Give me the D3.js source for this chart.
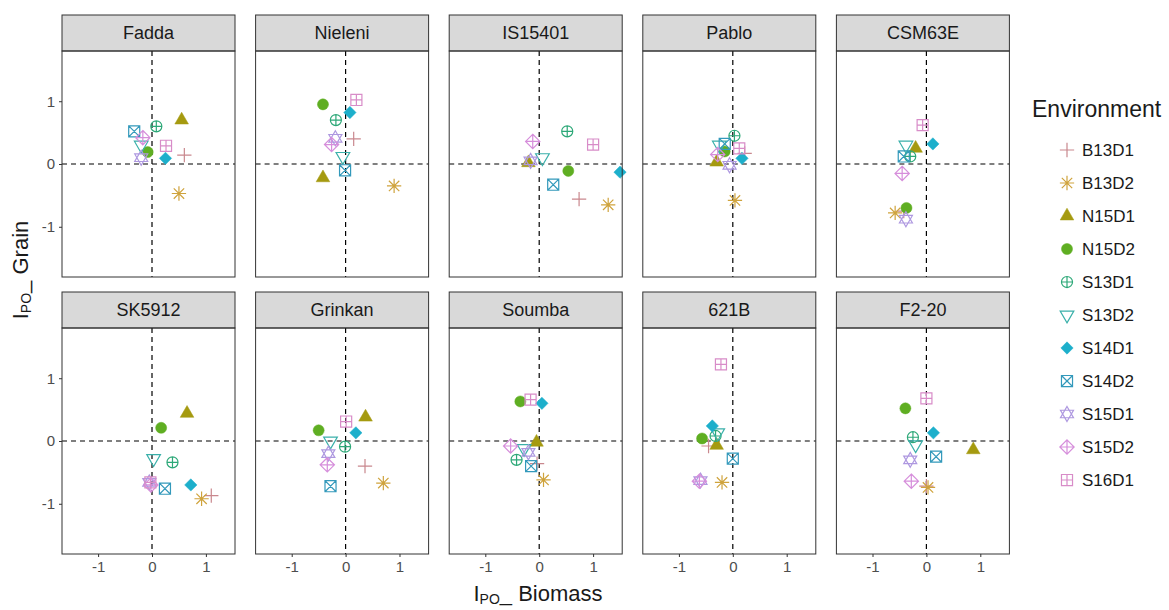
<!DOCTYPE html>
<html>
<head>
<meta charset="utf-8">
<script src="https://cdn.jsdelivr.net/npm/d3@7"></script>
<style>
  body { margin: 0; background: #fff; }
  text { font-family: Arial, "Liberation Sans", sans-serif; }
</style>
</head>
<body>
<div id="chart"></div>
<script>
'use strict';

// genotypes (facets), in panel order
var genotypes = ["Fadda", "Nieleni", "IS15401", "Pablo", "CSM63E",
                 "SK5912", "Grinkan", "Soumba", "621B", "F2-20"];

// environments (legend order)
var environments = ["B13D1", "B13D2", "N15D1", "N15D2", "S13D1", "S13D2",
                    "S14D1", "S14D2", "S15D1", "S15D2", "S16D1"];

var envColors = ["#C9888E", "#CFA33C", "#A59A10", "#5FAE22", "#2DA878", "#3AB0AA",
                 "#1DAFCB", "#3399BB", "#AE98E0", "#D68EDB", "#D88CC8"];

var envShapes = ["plus", "asterisk", "triangle", "circle", "circleplus", "triangledown",
                 "diamond", "squarecross", "star", "diamondplus", "squareplus"];

var xTicks = [-1, 0, 1];
var yTicks = [-1, 0, 1];

// [IPO_Biomass, IPO_Grain] per environment, same order as environments
var fadda   = [[0.60, 0.14], [0.50, -0.47], [0.55, 0.70], [-0.08, 0.19], [0.08, 0.60], [-0.20, 0.30],
               [0.25, 0.09], [-0.33, 0.52], [-0.20, 0.10], [-0.17, 0.42], [0.26, 0.29]];
var nieleni = [[0.15, 0.40], [0.90, -0.35], [-0.42, -0.22], [-0.42, 0.95], [-0.18, 0.70], [-0.05, 0.12],
               [0.08, 0.82], [-0.01, -0.10], [-0.19, 0.41], [-0.26, 0.31], [0.20, 1.02]];
var is15401 = [[0.74, -0.56], [1.28, -0.65], [-0.20, 0.02], [0.54, -0.11], [0.52, 0.52], [0.06, 0.10],
               [1.50, -0.13], [0.26, -0.33], [-0.16, 0.05], [-0.12, 0.36], [1.00, 0.31]];
var pablo   = [[0.22, 0.17], [0.04, -0.58], [-0.30, 0.03], [-0.15, 0.20], [0.03, 0.45], [-0.25, 0.30],
               [0.17, 0.09], [-0.15, 0.32], [-0.06, -0.02], [-0.28, 0.15], [0.12, 0.25]];
var csm63e  = [[-0.42, -0.75], [-0.58, -0.78], [-0.20, 0.25], [-0.37, -0.70], [-0.30, 0.12], [-0.38, 0.30],
               [0.12, 0.32], [-0.42, 0.12], [-0.38, -0.88], [-0.45, -0.15], [-0.07, 0.62]];
var sk5912  = [[1.10, -0.87], [0.92, -0.92], [0.65, 0.44], [0.17, 0.21], [0.38, -0.34], [0.03, -0.28],
               [0.72, -0.70], [0.24, -0.76], [-0.05, -0.66], [-0.02, -0.70], [-0.03, -0.66]];
var grinkan = [[0.36, -0.40], [0.70, -0.67], [0.37, 0.38], [-0.50, 0.17], [-0.01, -0.09], [-0.28, 0.00],
               [0.19, 0.13], [-0.28, -0.72], [-0.32, -0.20], [-0.34, -0.38], [0.01, 0.31]];
var soumba  = [[-0.04, -0.36], [0.08, -0.62], [-0.05, -0.02], [-0.35, 0.63], [-0.42, -0.30], [-0.28, -0.12],
               [0.05, 0.60], [-0.15, -0.40], [-0.20, -0.18], [-0.53, -0.08], [-0.16, 0.66]];
var b621    = [[-0.45, -0.08], [-0.20, -0.66], [-0.30, -0.07], [-0.57, 0.04], [-0.32, 0.08], [-0.28, 0.13],
               [-0.38, 0.24], [0.00, -0.28], [-0.60, -0.63], [-0.62, -0.64], [-0.22, 1.22]];
var f220    = [[0.00, -0.72], [0.03, -0.74], [0.87, -0.14], [-0.39, 0.52], [-0.25, 0.06], [-0.20, -0.06],
               [0.13, 0.13], [0.18, -0.25], [-0.30, -0.30], [-0.28, -0.64], [0.00, 0.68]];

var panelData = [fadda, nieleni, is15401, pablo, csm63e, sk5912, grinkan, soumba, b621, f220];

// layout
var W = 1169, H = 610;
var marginLeft = 62, marginTop = 15, panelW = 173, colStep = 193.6;
var stripH = 36, plotH = 226, rowStep = 277;

var svg = d3.select("#chart").append("svg")
    .attr("width", W)
    .attr("height", H);

var x = d3.scaleLinear().domain([-1.67, 1.54]).range([0, panelW]);
var y = d3.scaleLinear().domain([-1.8, 1.8]).range([plotH, 0]);

// symbol paths, r = half size
function shapePath(type, r) {
    var p = "";
    var cr = r * 0.85;
    function plus(s) { return "M" + (-s) + ",0H" + s + "M0," + (-s) + "V" + s; }
    function cross(s) { return "M" + (-s) + "," + (-s) + "L" + s + "," + s + "M" + (-s) + "," + s + "L" + s + "," + (-s); }
    function square(s) { return "M" + (-s) + "," + (-s) + "H" + s + "V" + s + "H" + (-s) + "Z"; }
    function diamond(s) { return "M0," + (-s) + "L" + s + ",0L0," + s + "L" + (-s) + ",0Z"; }
    function circ(s) { return "M" + (-s) + ",0A" + s + "," + s + " 0 1,0 " + s + ",0A" + s + "," + s + " 0 1,0 " + (-s) + ",0Z"; }
    function triUp(s) { return "M0," + (-s * 1.15) + "L" + s + "," + (s * 0.58) + "L" + (-s) + "," + (s * 0.58) + "Z"; }
    function triDown(s) { return "M0," + (s * 1.15) + "L" + s + "," + (-s * 0.58) + "L" + (-s) + "," + (-s * 0.58) + "Z"; }
    if (type == "plus") p = plus(r * 1.1);
    else if (type == "asterisk") p = plus(r * 1.1) + cross(r * 0.8);
    else if (type == "triangle") p = triUp(r * 1.05);
    else if (type == "circle") p = circ(r * 0.85);
    else if (type == "circleplus") p = circ(cr) + plus(cr);
    else if (type == "triangledown") p = triDown(r * 1.05);
    else if (type == "diamond") p = diamond(r * 0.95);
    else if (type == "squarecross") p = square(cr) + cross(cr);
    else if (type == "star") p = triUp(r) + triDown(r);
    else if (type == "diamondplus") p = diamond(r * 1.1) + plus(r * 1.1);
    else if (type == "squareplus") p = square(cr) + plus(cr);
    return p;
}

function isFilled(type) {
    return type == "triangle" || type == "circle" || type == "diamond";
}

function drawSymbol(g, i, r) {
    var type = envShapes[i];
    g.append("path")
        .attr("d", shapePath(type, r))
        .attr("fill", isFilled(type) ? envColors[i] : "none")
        .attr("stroke", envColors[i])
        .attr("stroke-width", isFilled(type) ? 0.5 : 1.2);
}

function styleTicks(ax) {
    ax.select(".domain").remove();
    ax.selectAll("line").attr("stroke", "#333");
    ax.selectAll("text").attr("font-size", "15px").attr("fill", "#4D4D4D")
        .style("font-family", "Arial, 'Liberation Sans', sans-serif");
}

genotypes.forEach(function(name, k) {
    var col = k % 5, row = Math.floor(k / 5);
    var gx = marginLeft + col * colStep;
    var gy = marginTop + row * rowStep;

    var panel = svg.append("g").attr("transform", "translate(" + gx + "," + gy + ")");

    // strip
    panel.append("rect")
        .attr("width", panelW)
        .attr("height", stripH)
        .attr("fill", "#D9D9D9")
        .attr("stroke", "#333")
        .attr("stroke-width", 1);
    panel.append("text")
        .attr("x", panelW / 2)
        .attr("y", stripH / 2 + 6)
        .attr("text-anchor", "middle")
        .attr("font-size", "18px")
        .attr("fill", "#1A1A1A")
        .text(name);

    var plot = panel.append("g").attr("transform", "translate(0," + stripH + ")");

    // reference lines
    plot.append("line")
        .attr("x1", x(0)).attr("x2", x(0))
        .attr("y1", 0).attr("y2", plotH)
        .attr("stroke", "#000").attr("stroke-width", 1.2)
        .attr("stroke-dasharray", "5,4");
    plot.append("line")
        .attr("x1", 0).attr("x2", panelW)
        .attr("y1", y(0)).attr("y2", y(0))
        .attr("stroke", "#000").attr("stroke-width", 1.2)
        .attr("stroke-dasharray", "5,4");

    // points
    plot.selectAll("g.pt")
        .data(panelData[k])
        .enter().append("g")
        .attr("class", "pt")
        .attr("transform", function(d) { return "translate(" + x(d[0]) + "," + y(d[1]) + ")"; })
        .each(function(d, i) { drawSymbol(d3.select(this), i, 6.5); });

    // border
    plot.append("rect")
        .attr("width", panelW)
        .attr("height", plotH)
        .attr("fill", "none")
        .attr("stroke", "#333")
        .attr("stroke-width", 1);

    // axes
    if (col == 0) {
        var ay = plot.append("g")
            .call(d3.axisLeft(y).tickValues(yTicks).tickSize(3).tickPadding(4)
                .tickFormat(function(d) { return String(d); }));
        styleTicks(ay);
    }
    if (row == 1) {
        var ax = plot.append("g")
            .attr("transform", "translate(0," + plotH + ")")
            .call(d3.axisBottom(x).tickValues(xTicks).tickSize(3).tickPadding(4)
                .tickFormat(function(d) { return String(d); }));
        styleTicks(ax);
    }
});

// axis titles
var xt = svg.append("text")
    .attr("x", 538)
    .attr("y", 601)
    .attr("text-anchor", "middle")
    .attr("font-size", "22px")
    .attr("fill", "#1A1A1A");
xt.append("tspan").text("I");
xt.append("tspan").attr("font-size", "14px").attr("dy", 3).text("PO");
xt.append("tspan").attr("dy", -3).text("_ Biomass");

var yt = svg.append("text")
    .attr("transform", "translate(28,270) rotate(-90)")
    .attr("text-anchor", "middle")
    .attr("font-size", "22px")
    .attr("fill", "#1A1A1A");
yt.append("tspan").text("I");
yt.append("tspan").attr("font-size", "14px").attr("dy", 3).text("PO");
yt.append("tspan").attr("dy", -3).text("_ Grain");

// legend
var legend = svg.append("g").attr("transform", "translate(1032,0)");
legend.append("text")
    .attr("x", 0)
    .attr("y", 117)
    .attr("font-size", "23px")
    .attr("fill", "#1A1A1A")
    .text("Environment");

environments.forEach(function(env, i) {
    var item = legend.append("g").attr("transform", "translate(0," + (150 + i * 33) + ")");
    var sym = item.append("g").attr("transform", "translate(35,0)");
    drawSymbol(sym, i, 6.5);
    item.append("text")
        .attr("x", 50)
        .attr("y", 6)
        .attr("font-size", "17px")
        .attr("fill", "#1A1A1A")
        .text(env);
});
</script>
</body>
</html>
